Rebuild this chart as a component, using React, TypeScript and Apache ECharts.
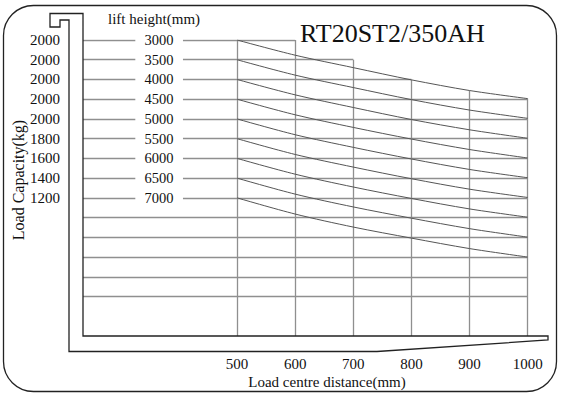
import React, { useEffect, useRef } from 'react';
import * as echarts from 'echarts';

// Left-hand table
const capacities = ['2000', '2000', '2000', '2000', '2000', '1800', '1600', '1400', '1200'];
const liftHeights = ['3000', '3500', '4000', '4500', '5000', '5500', '6000', '6500', '7000'];

// Load centre distances (mm)
const distances = [500, 600, 700, 800, 900, 1000];

// Capacity curves, in grid-row units (row 0 = top line, row 15 = bottom of chart)
const curve3000 = [0, 0.77, 1.4, 2.02, 2.56, 2.97];
const curve3500 = [1, 1.78, 2.41, 3.02, 3.55, 3.97];
const curve4000 = [2, 2.78, 3.42, 4.03, 4.55, 4.98];
const curve4500 = [3, 3.79, 4.43, 5.02, 5.55, 5.98];
const curve5000 = [4, 4.8, 5.44, 6.03, 6.56, 6.98];
const curve5500 = [5, 5.8, 6.44, 7.03, 7.56, 7.98];
const curve6000 = [6, 6.8, 7.45, 8.03, 8.56, 8.98];
const curve6500 = [7, 7.81, 8.46, 9.03, 9.56, 9.99];
const curve7000 = [8, 8.82, 9.48, 10.04, 10.57, 11.0];
const curves = [curve3000, curve3500, curve4000, curve4500, curve5000, curve5500, curve6000, curve6500, curve7000];

// Grid rows (0..13) and where each ends on the distance axis
const rowEnds = [600, 700, 800, 1000, 1000, 1000, 1000, 1000, 1000, 1000, 1000, 1000, 1000, 1000];
// Row at which each distance column line starts
const columnTops = [0, 0, 1, 2.02, 2.56, 2.97];

const X_MIN = 235;
const X_MAX = 1035;
const ROW_MAX = 15;
const GAP_L = 325;
const GAP_R = 407;

const FONT = '"Liberation Serif", "Times New Roman", serif';

export default function App() {
  const ref = useRef<HTMLDivElement>(null);

  useEffect(() => {
    document.body.style.margin = '0';
    if (!ref.current) return;
    const chart = echarts.init(ref.current, undefined, { renderer: 'svg' });

    const gridSegs: any[] = [];
    rowEnds.forEach((end, r) => {
      if (r < liftHeights.length) {
        gridSegs.push({ coords: [[X_MIN, r], [GAP_L, r]] });
        gridSegs.push({ coords: [[GAP_R, r], [end, r]] });
      } else {
        gridSegs.push({ coords: [[X_MIN, r], [end, r]] });
      }
    });
    distances.forEach((d, i) => {
      gridSegs.push({ coords: [[d, columnTops[i]], [d, ROW_MAX]] });
    });

    const curveSeries = curves.map((c, k) => ({
      type: 'line',
      name: liftHeights[k],
      data: distances.map((d, i) => [d, c[i]]),
      smooth: 0.3,
      symbol: 'none',
      lineStyle: { color: '#555', width: 1 },
      z: 3,
    }));

    const rowIdx = liftHeights.map((_, i) => i);

    chart.setOption({
      animation: false,
      grid: { left: 83, right: 14, top: 40, bottom: 61, containLabel: false },
      xAxis: {
        type: 'value',
        min: X_MIN,
        max: X_MAX,
        axisLine: { show: false },
        axisTick: { show: false },
        splitLine: { show: false },
        axisLabel: {
          customValues: distances,
          formatter: (v: number) => String(v),
          margin: 20,
          fontFamily: FONT,
          fontSize: 15,
          color: '#111',
        },
      },
      yAxis: [
        {
          type: 'value',
          min: 0,
          max: ROW_MAX,
          inverse: true,
          axisLine: { show: false },
          axisTick: { show: false },
          splitLine: { show: false },
          axisLabel: {
            customValues: rowIdx,
            formatter: (v: number) => capacities[v] ?? '',
            margin: 23,
            fontFamily: FONT,
            fontSize: 15,
            color: '#111',
          },
        },
        {
          type: 'value',
          min: 0,
          max: ROW_MAX,
          inverse: true,
          position: 'left',
          offset: -76,
          axisLine: { show: false },
          axisTick: { show: false },
          splitLine: { show: false },
          axisLabel: {
            customValues: rowIdx,
            formatter: (v: number) => liftHeights[v] ?? '',
            margin: 0,
            align: 'center',
            fontFamily: FONT,
            fontSize: 14.5,
            color: '#111',
          },
        },
      ],
      series: [
        {
          type: 'lines',
          coordinateSystem: 'cartesian2d',
          data: gridSegs,
          lineStyle: { color: '#8f8f8f', width: 1.3, opacity: 1 },
          silent: true,
          z: 2,
        },
        ...curveSeries,
      ],
      graphic: [
        {
          type: 'rect',
          shape: { x: 3.5, y: 5.5, width: 553, height: 386, r: 30 },
          style: { fill: 'none', stroke: '#222', lineWidth: 1.3 },
          silent: true,
        },
        {
          type: 'polygon',
          shape: {
            points: [
              [50, 13.5], [83, 13.5], [83, 336], [548, 336], [548, 340],
              [377, 351.5], [69, 351.5], [69, 20], [60, 20], [60, 27], [50, 27],
            ],
          },
          style: { fill: 'none', stroke: '#222', lineWidth: 1.3 },
          silent: true,
          z: 10,
        },
        {
          type: 'text',
          x: 300,
          y: 33,
          style: {
            text: 'RT20ST2/350AH',
            font: `26px ${FONT}`,
            fill: '#111',
            verticalAlign: 'middle',
            align: 'left',
          },
        },
        {
          type: 'text',
          x: 108,
          y: 19,
          style: {
            text: 'lift height(mm)',
            font: `15px ${FONT}`,
            fill: '#111',
            verticalAlign: 'middle',
            align: 'left',
          },
        },
        {
          type: 'text',
          x: 327,
          y: 382,
          style: {
            text: 'Load centre distance(mm)',
            font: `15px ${FONT}`,
            fill: '#111',
            verticalAlign: 'middle',
            align: 'center',
          },
        },
        {
          type: 'text',
          x: 18,
          y: 180,
          rotation: Math.PI / 2,
          style: {
            text: 'Load Capacity(kg)',
            font: `16px ${FONT}`,
            fill: '#111',
            verticalAlign: 'middle',
            align: 'center',
          },
        },
      ],
    });

    return () => chart.dispose();
  }, []);

  return <div ref={ref} style={{ width: 562, height: 397 }} />;
}
